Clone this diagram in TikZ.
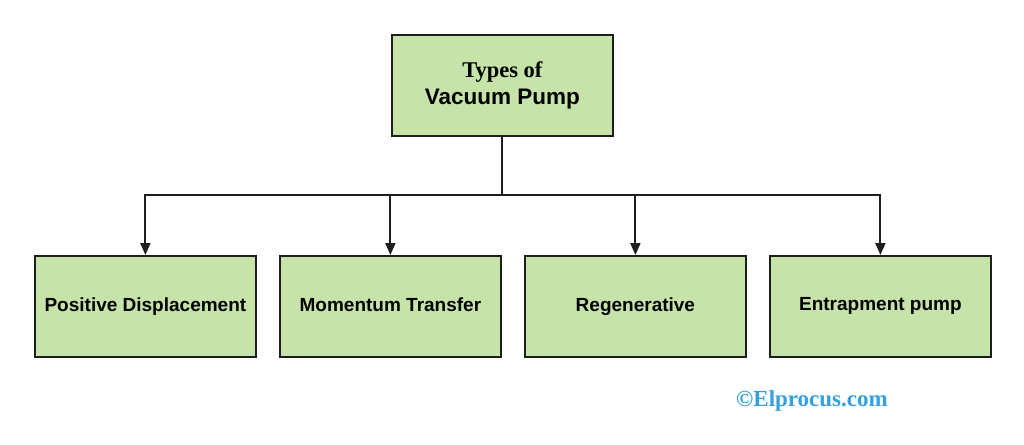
\documentclass[tikz,border=0pt]{standalone}
\usepackage{fontspec}
\setmainfont{Liberation Serif}
\setsansfont{Liberation Sans}
\usetikzlibrary{arrows.meta}
\definecolor{boxfill}{RGB}{198,228,170}
\definecolor{boxline}{RGB}{30,30,30}
\definecolor{wmark}{RGB}{52,160,222}
\tikzset{
  tbox/.style={draw=boxline, line width=1.8pt, fill=boxfill, minimum width=221pt, minimum height=101pt, inner sep=0pt, align=center, anchor=north west},
  lbl/.style={font=\fontsize{19}{23}\selectfont\sffamily\bfseries},
  conn/.style={draw=boxline, line width=2pt},
  arr/.style={conn, -{Triangle[length=12pt,width=10pt]}}
}
\newcommand{\bal}{\vphantom{Ap}}
\begin{document}
\begin{tikzpicture}[x=1pt,y=-1pt]
\useasboundingbox[fill=white] (0,0) rectangle (1024,444);
\node[tbox] (top) at (391,34) {\fontsize{22.5}{26}\selectfont\bfseries Types of\\[5pt]\fontsize{22.5}{26}\selectfont\sffamily\bfseries Vacuum Pump};
\node[tbox, lbl] (b1) at (34,255) {\bal Positive Displacement};
\node[tbox, lbl] (b2) at (279,255) {\bal Momentum Transfer};
\node[tbox, lbl] (b3) at (524,255) {\bal Regenerative};
\node[tbox, lbl] (b4) at (769,255) {\bal Entrapment pump};
\coordinate (j) at (top.south |- 0,195);
\draw[conn] (top.south) -- (j);
\draw[conn, line cap=rect] (b1.north |- j) -- (b4.north |- j);
\draw[arr] (b1.north |- j) -- (b1.north);
\draw[arr] (b2.north |- j) -- (b2.north);
\draw[arr] (b3.north |- j) -- (b3.north);
\draw[arr] (b4.north |- j) -- (b4.north);
\node[anchor=center, text=wmark, inner sep=0pt] (wm) at (812,401) {\fontsize{23}{26}\selectfont\bfseries ©Elprocus.com};
\end{tikzpicture}
\end{document}
